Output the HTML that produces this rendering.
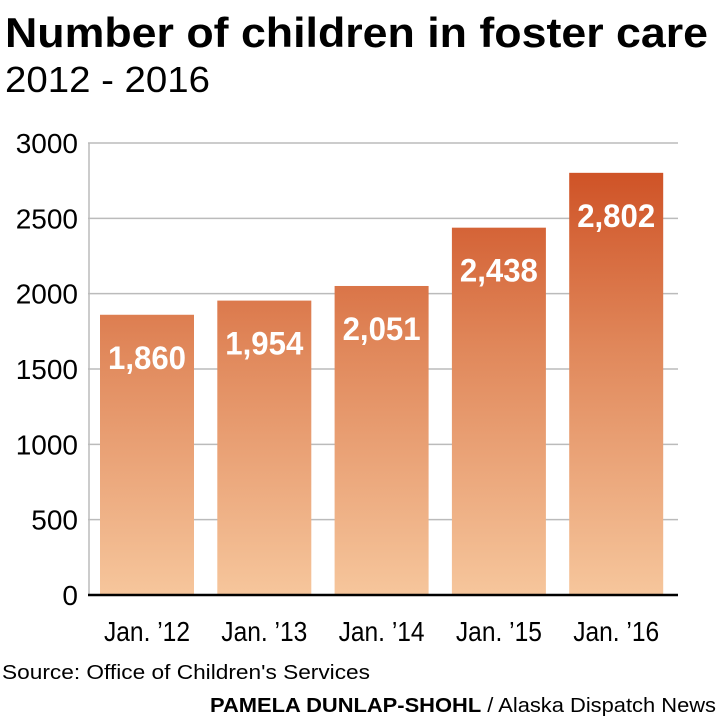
<!DOCTYPE html>
<html><head><meta charset="utf-8"><style>
html,body{margin:0;padding:0;background:#fff;}
svg{display:block;font-family:"Liberation Sans Narrow","Liberation Sans",sans-serif;}
</style></head><body>
<svg id="chart" width="720" height="720" viewBox="0 0 720 720">
<defs>
<linearGradient id="barGrad" gradientUnits="userSpaceOnUse" x1="0" y1="143" x2="0" y2="595">
<stop offset="0" stop-color="#cc4a1e"/>
<stop offset="0.45" stop-color="#e0875a"/>
<stop offset="1" stop-color="#f6c69c"/>
</linearGradient>
</defs>
<text x="5" y="47" font-size="42" font-weight="bold" fill="#000" textLength="703" lengthAdjust="spacingAndGlyphs">Number of children in foster care</text>
<text x="5" y="92" font-size="36" fill="#000" textLength="205" lengthAdjust="spacingAndGlyphs">2012 - 2016</text>
<g id="grid"></g>
<g id="bars"></g>
<line x1="88" x2="678" y1="595" y2="595" stroke="#000" stroke-width="2.5"/>
<g id="xlabels"></g>
<text x="2" y="679" font-size="20" fill="#000" textLength="368" lengthAdjust="spacingAndGlyphs">Source: Office of Children's Services</text>
<text x="210" y="712" font-size="20" fill="#000" textLength="506" lengthAdjust="spacingAndGlyphs"><tspan font-weight="bold">PAMELA DUNLAP-SHOHL</tspan> / Alaska Dispatch News</text>
</svg>
<script>
const categories = ["Jan. \u201912","Jan. \u201913","Jan. \u201914","Jan. \u201915","Jan. \u201916"];
const values = [1860,1954,2051,2438,2802];
const valueLabels = ["1,860","1,954","2,051","2,438","2,802"];
const yTicks = [0,500,1000,1500,2000,2500,3000];

const NS="http://www.w3.org/2000/svg";
const y0=595, yTop=143, yMax=3000;
function yScale(v){return y0-(v/yMax)*(y0-yTop);}
const bandStart=100, bandStep=117.3, barW=94;
function xScale(i){return bandStart+i*bandStep;}
function mk(tag,attrs,parent){const e=document.createElementNS(NS,tag);for(const k in attrs)e.setAttribute(k,attrs[k]);parent.appendChild(e);return e;}
const grid=document.getElementById('grid');
yTicks.forEach(t=>{
  const y=yScale(t);
  if(t>0){const l=mk('line',{x1:88,x2:678,y1:y,y2:y,stroke:'#bbb','stroke-width':1.5},grid);
  
  }
  const tx=mk('text',{x:78,y:y+10,'font-size':28,'text-anchor':'end',fill:'#000'},grid);
  
  
  tx.textContent=t;
});
const vl=mk('line',{x1:89,x2:89,y1:yTop,y2:y0,stroke:'#bbb','stroke-width':1.5},grid);


const bars=document.getElementById('bars');
const xl=document.getElementById('xlabels');
values.forEach((v,i)=>{
  const x=xScale(i), y=yScale(v);
  const r=mk('rect',{x:x,y:y,width:barW,height:y0-y,fill:'url(#barGrad)'},bars);
  
  
  const t=mk('text',{x:x+barW/2,y:y+54,'font-size':32,'font-weight':'bold','text-anchor':'middle',fill:'#fff',textLength:78,lengthAdjust:'spacingAndGlyphs'},bars);
  
  
  t.textContent=valueLabels[i];
  const c=mk('text',{x:x+barW/2,y:641,'font-size':28,'text-anchor':'middle',fill:'#000',textLength:86,lengthAdjust:'spacingAndGlyphs'},xl);
  
  
  c.textContent=categories[i];
});
</script>
</body></html>
